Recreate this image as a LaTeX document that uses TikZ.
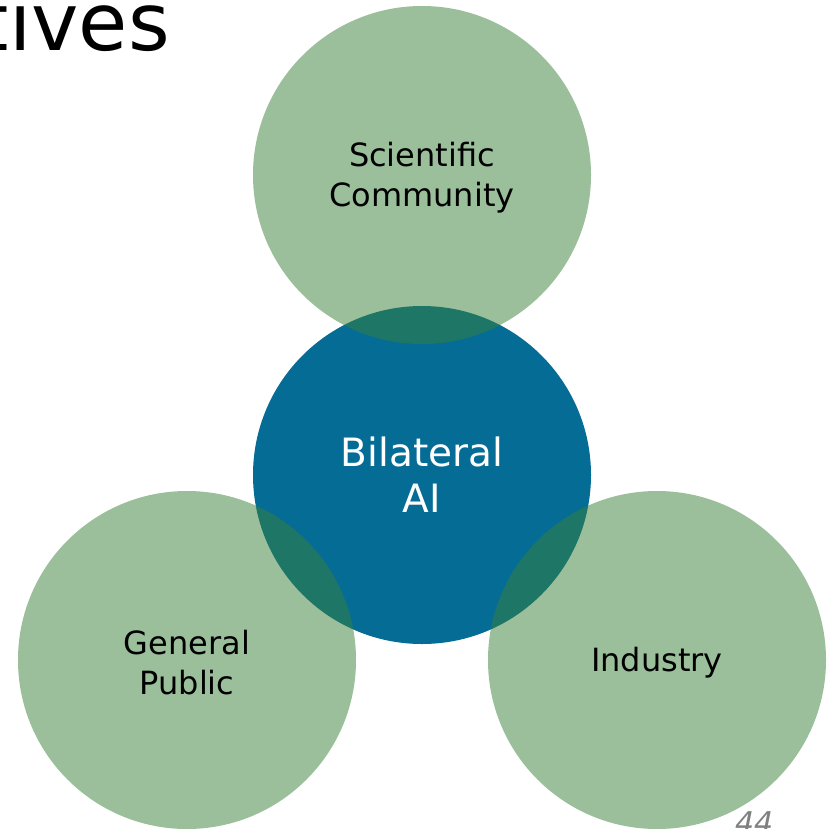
\documentclass[tikz,border=0pt]{standalone}
\usepackage{fontspec}
\setmainfont{DejaVu Sans}
\newfontfamily\dvobl[FakeSlant=0.2]{DejaVu Sans}
\definecolor{ringgreen}{RGB}{55,129,55}
\definecolor{corebl}{RGB}{5,108,150}
\definecolor{pagegray}{RGB}{128,128,128}
\tikzset{
  corecircle/.style={circle, inner sep=0pt, minimum size=338pt, fill=corebl, text=white, align=center, font=\fontsize{39}{46}\selectfont},
  ringcircle/.style={circle, inner sep=0pt, minimum size=338pt, fill=ringgreen, fill opacity=0.5},
  ringtext/.style={inner sep=0pt, text=black, align=center, yshift=-3pt, font=\fontsize{32}{40}\selectfont}
}
\begin{document}
\begin{tikzpicture}[x=1pt,y=-1pt]
\useasboundingbox (0,0) rectangle (829,828);
\clip (0,0) rectangle (829,828);
\fill[white] (0,0) rectangle (829,828);
\node[corecircle] (core) at (422,475) {Bilateral\\AI};
\node[ringcircle] (sci) at (422,175) {};
\node[ringcircle] (pub) at (187,660) {};
\node[ringcircle] (ind) at (657,660) {};
\node[ringtext] (scitext) at (sci.center) {Scientific\\Community};
\node[ringtext] (pubtext) at (pub.center) {General\\Public};
\node[ringtext] (indtext) at (ind.center) {Industry};
\node[anchor=base east, inner sep=0pt, font=\fontsize{80}{96}\selectfont] (title) at (170,50) {tives};
\node[anchor=base east, inner sep=0pt, text=pagegray, font=\dvobl\fontsize{30}{36}\selectfont] (page) at (772,833) {44};
\end{tikzpicture}
\end{document}
